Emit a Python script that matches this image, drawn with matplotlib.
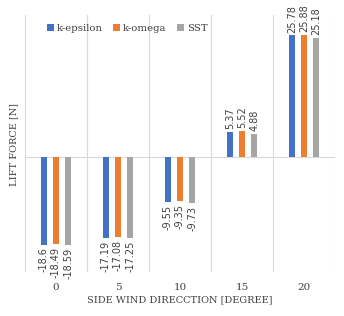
import numpy as np
import matplotlib
matplotlib.use('Agg')
import matplotlib.pyplot as plt

angles = ['0', '5', '10', '15', '20']
k_epsilon = [-18.6, -17.19, -9.55, 5.37, 25.78]
k_omega = [-18.49, -17.08, -9.35, 5.52, 25.88]
sst = [-18.59, -17.25, -9.73, 4.88, 25.18]
series = [('k-epsilon', k_epsilon, '#4472c4'),
          ('k-omega', k_omega, '#ed7d31'),
          ('SST', sst, '#a5a5a5')]

serif = ['DejaVu Serif']
fig = plt.figure(figsize=(3.44, 3.16), dpi=100)
ax = fig.add_axes([25/344, 1 - 272/316, 310/344, 257/316])

x = np.arange(len(angles))
width = 0.095
for i, (name, vals, col) in enumerate(series):
    pos = x + (i - 1) * 0.195
    ax.bar(pos, vals, width, color=col, label=name, zorder=3)
    for p, v in zip(pos, vals):
        lab = '%g' % v
        if v >= 0:
            ax.text(p, v + 0.6, lab, rotation=90, ha='center', va='bottom',
                    fontsize=7, color='#404040')
        else:
            ax.text(p, v - 0.6, lab, rotation=90, ha='center', va='top',
                    fontsize=7, color='#404040')

ax.set_xlim(-0.5, len(angles) - 0.5)
ax.set_ylim(-24.4, 30.1)
for b in np.arange(-0.5, len(angles), 1.0):
    ax.axvline(b, color='#d9d9d9', lw=0.8, zorder=1)
ax.axhline(0, color='#d9d9d9', lw=0.8, zorder=2)
for s in ax.spines.values():
    s.set_visible(False)
ax.set_yticks([])
ax.set_xticks(x)
ax.set_xticklabels(angles, family=serif, fontsize=7.5, color='#404040')
ax.tick_params(axis='x', length=0, pad=8)
ax.set_xlabel('SIDE WIND DIRECCTION [DEGREE]', family=serif, fontsize=7,
              color='#404040', labelpad=2)
fig.text(14/344, 1 - 144/316, 'LIFT FORCE [N]', rotation=90, ha='center',
         va='center', family=serif, fontsize=7, color='#404040')

ax.legend(loc='upper left', bbox_to_anchor=(0.04, 1.0), ncol=3,
          frameon=False, prop={'family': serif, 'size': 7.3},
          handlelength=0.7, handleheight=0.7, handletextpad=0.3,
          columnspacing=1.0, labelcolor='#404040')

fig.savefig('out.png', dpi=100)
